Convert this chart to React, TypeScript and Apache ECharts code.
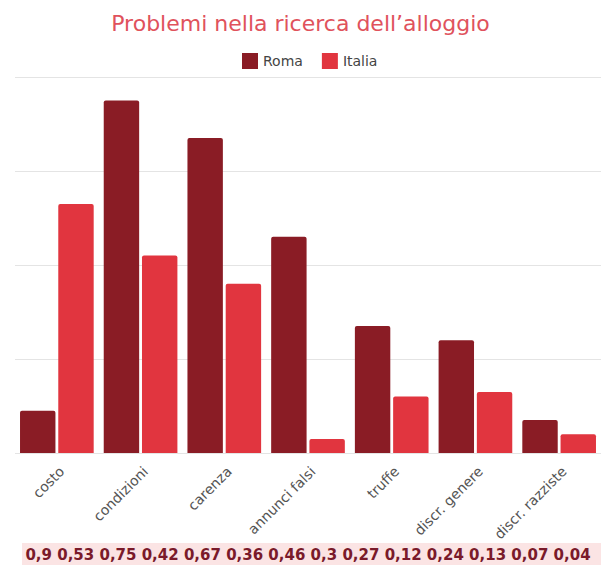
import React, { useEffect, useRef } from "react";
import * as echarts from "echarts";

const categories = ["costo", "condizioni", "carenza", "annunci falsi", "truffe", "discr. genere", "discr. razziste"];
const roma = [0.09, 0.75, 0.67, 0.46, 0.27, 0.24, 0.07];
const italia = [0.53, 0.42, 0.36, 0.03, 0.12, 0.13, 0.04];
const valueLabels = ["0,9", "0,53", "0,75", "0,42", "0,67", "0,36", "0,46", "0,3", "0,27", "0,12", "0,24", "0,13", "0,07", "0,04"];

const FONT = "'DejaVu Sans', 'Noto Sans', sans-serif";

export default function App() {
  const ref = useRef<HTMLDivElement>(null);
  useEffect(() => {
    if (!ref.current) return;
    const chart = echarts.init(ref.current, null, { renderer: "svg" });
    chart.setOption({
      animation: false,
      textStyle: { fontFamily: FONT },
      title: {
        text: "Problemi nella ricerca dell\u2019alloggio",
        left: "center",
        top: 7,
        textStyle: { color: "#e0525c", fontSize: 22, fontWeight: 400, fontFamily: FONT },
      },
      legend: {
        top: 48,
        left: 237,
        itemWidth: 16,
        itemHeight: 16,
        itemGap: 19,
        icon: "rect",
        textStyle: { color: "#444", fontSize: 14, fontFamily: FONT },
        data: ["Roma", "Italia"],
      },
      grid: { left: 15, top: 77, width: 595, bottom: 112, containLabel: false },
      xAxis: {
        type: "category",
        data: categories,
        axisLine: { show: false },
        axisTick: { show: false },
        axisLabel: {
          rotate: 45,
          color: "#555",
          fontSize: 14,
          margin: 11,
          interval: 0,
          verticalAlign: "top",
          fontFamily: FONT,
        },
      },
      yAxis: {
        type: "value",
        min: 0,
        max: 0.8,
        interval: 0.2,
        axisLabel: { show: false },
        axisLine: { show: false },
        axisTick: { show: false },
        splitLine: { lineStyle: { color: "#e4e4e4" } },
      },
      series: [
        {
          name: "Roma",
          type: "bar",
          data: roma,
          itemStyle: { color: "#8a1c25", borderRadius: [2, 2, 0, 0] },
          barGap: "8%",
          barCategoryGap: "12%",
        },
        {
          name: "Italia",
          type: "bar",
          data: italia,
          itemStyle: { color: "#e1353f", borderRadius: [2, 2, 0, 0] },
          barGap: "8%",
          barCategoryGap: "12%",
        },
      ],
      graphic: [
        {
          type: "rect",
          left: 22,
          top: 543,
          shape: { width: 579, height: 22 },
          style: { fill: "#fbe4e4" },
        },
        {
          type: "text",
          x: 308,
          y: 555,
          style: {
            text: valueLabels.join(" "),
            fill: "#7a1a2a",
            fontSize: 15,
            fontWeight: "bold",
            fontFamily: FONT,
            textAlign: "center",
            textVerticalAlign: "middle",
          },
        },
      ],
    });
    return () => chart.dispose();
  }, []);
  return <div ref={ref} style={{ position: "absolute", left: 0, top: 0, width: 601, height: 565 }} />;
}
